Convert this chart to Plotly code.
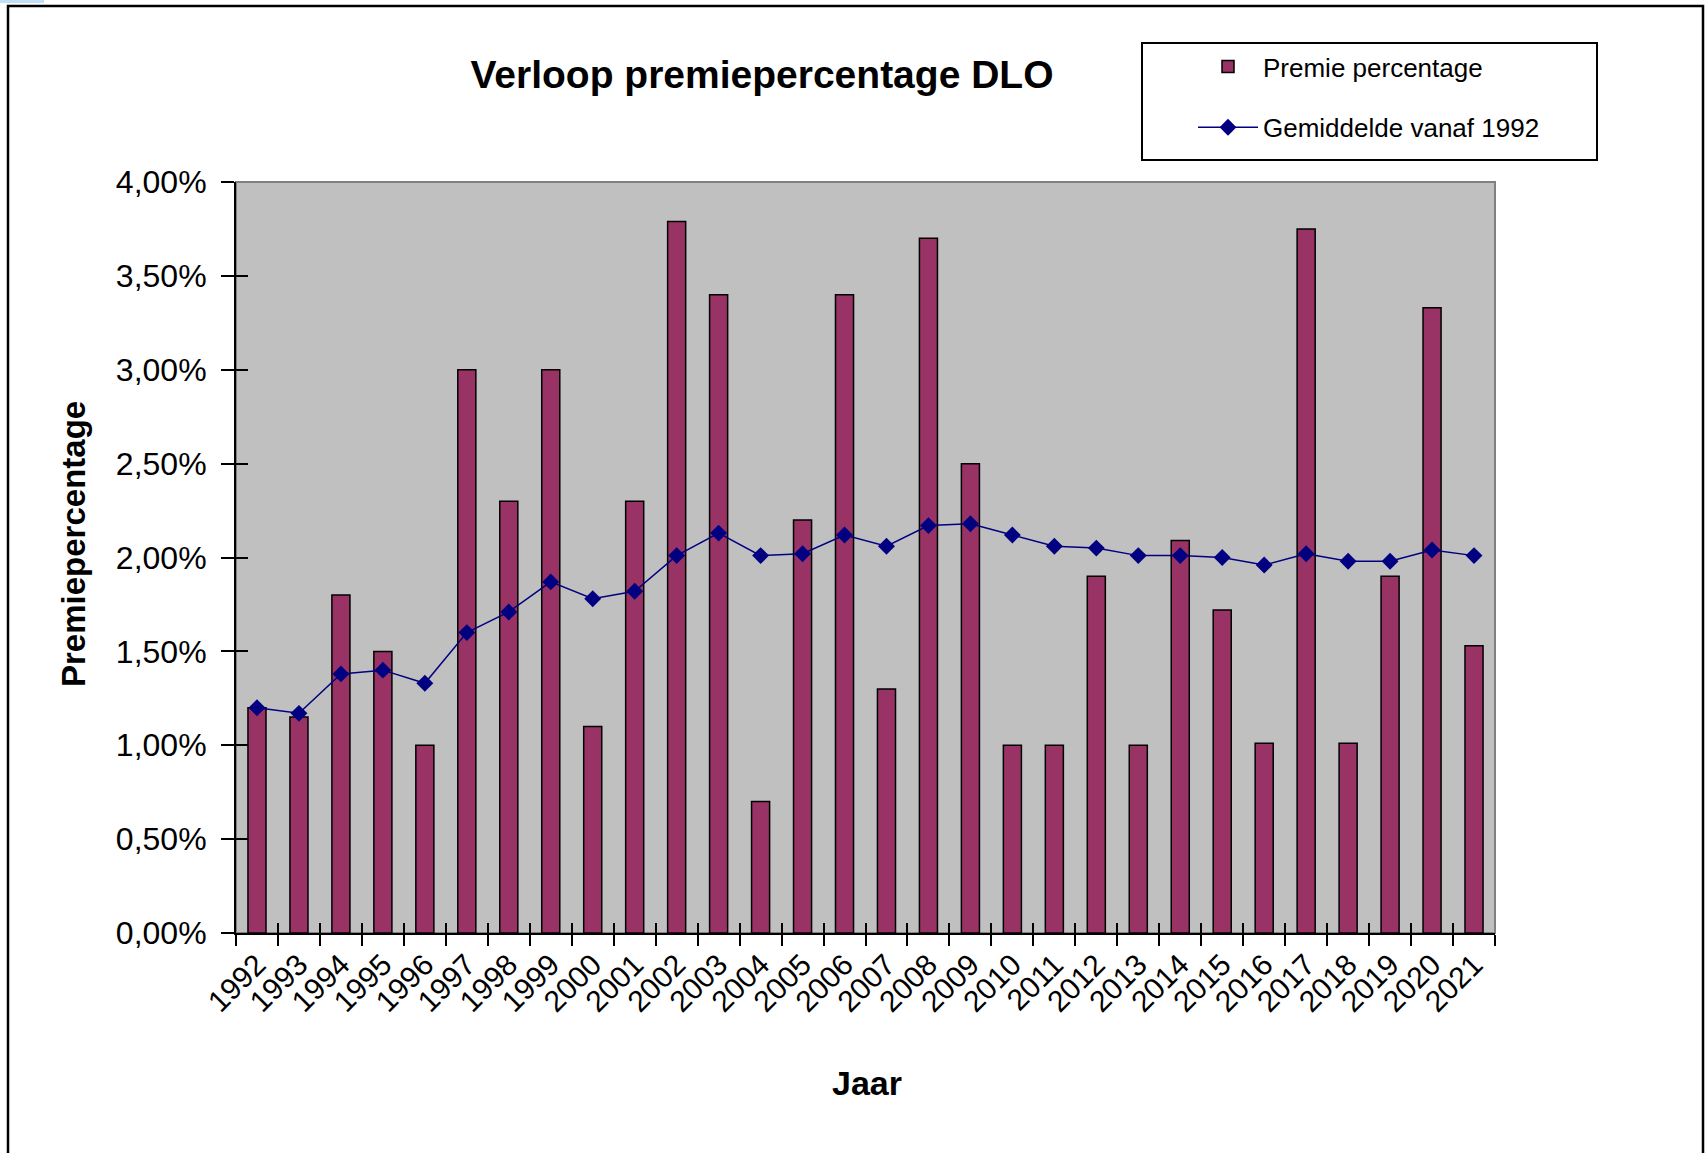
import plotly.graph_objects as go

years = [str(y) for y in range(1992, 2022)]
premie = [1.20, 1.15, 1.80, 1.50, 1.00, 3.00, 2.30, 3.00, 1.10, 2.30,
          3.79, 3.40, 0.70, 2.20, 3.40, 1.30, 3.70, 2.50, 1.00, 1.00,
          1.90, 1.00, 2.09, 1.72, 1.01, 3.75, 1.01, 1.90, 3.33, 1.53]
gemiddelde = [1.20, 1.17, 1.38, 1.40, 1.33, 1.60, 1.71, 1.87, 1.78, 1.82,
              2.01, 2.13, 2.01, 2.02, 2.12, 2.06, 2.17, 2.18, 2.12, 2.06,
              2.05, 2.01, 2.01, 2.00, 1.96, 2.02, 1.98, 1.98, 2.04, 2.01]
y_ticks = [0, 0.005, 0.01, 0.015, 0.02, 0.025, 0.03, 0.035, 0.04]

premie_f = [v / 100 for v in premie]
gem_f = [v / 100 for v in gemiddelde]

W, H = 1706, 1153
L, R, T, B = 236, 1495, 182, 933  # plot area in pixels


def px(x):
    return (x - L) / (R - L)


def py(y):
    return (B - y) / (B - T)


FONT = "Liberation Sans, Arial, sans-serif"
cat_range = [-0.5, len(years) - 0.5]

fig = go.Figure()
fig.add_trace(go.Bar(
    x=years, y=premie_f, name="Premie percentage",
    marker=dict(color="#993366", line=dict(color="black", width=1.5)),
    legendgroup="a",
))
fig.add_trace(go.Scatter(
    x=years, y=gem_f, name="Gemiddelde vanaf 1992",
    mode="lines+markers", xaxis="x2", yaxis="y2",
    line=dict(color="#000080", width=1.5),
    marker=dict(symbol="diamond", size=13, color="#000080"),
    legendgroup="b",
))

fig.update_layout(
    width=W, height=H,
    margin=dict(l=L, r=W - R, t=T, b=H - B, pad=0),
    paper_bgcolor="white", plot_bgcolor="#C0C0C0",
    separators=",.",
    bargap=0.57,
    font=dict(family=FONT, color="black"),
    title=dict(text="Verloop premiepercentage DLO", x=px(762), xref="paper",
               xanchor="center", y=1 - 74 / H, yanchor="middle",
               font=dict(size=39, weight="bold", family=FONT, color="black")),
    showlegend=True,
    legend=dict(x=px(1193), y=py(43), xanchor="left", yanchor="top",
                bgcolor="rgba(0,0,0,0)", borderwidth=0,
                font=dict(size=26, family=FONT, color="black"),
                traceorder="grouped", tracegroupgap=24, itemwidth=60),
    xaxis=dict(type="category", range=cat_range, tickson="boundaries",
               ticks="outside", ticklen=11, tickwidth=2, tickcolor="black",
               showline=True, linecolor="black", linewidth=2,
               showgrid=False, tickangle=-45,
               tickfont=dict(size=30, family=FONT, color="black")),
    yaxis=dict(range=[0, 0.04], tickvals=y_ticks, tickformat=".2%",
               ticks="outside", ticklen=13, tickwidth=2, tickcolor="black",
               showline=True, linecolor="black", linewidth=2,
               showgrid=False, zeroline=False, ticklabelstandoff=8,
               tickfont=dict(size=32, family=FONT, color="black")),
    xaxis2=dict(type="category", overlaying="x", matches="x", anchor="y2",
                range=cat_range, side="bottom", tickson="boundaries",
                ticks="inside", ticklen=10, tickwidth=2, tickcolor="black",
                showticklabels=False, showline=False, showgrid=False),
    yaxis2=dict(overlaying="y", matches="y", anchor="x2", side="left",
                range=[0, 0.04], tickvals=y_ticks, ticks="inside",
                ticklen=12, tickwidth=2, tickcolor="black",
                showticklabels=False, showline=False,
                showgrid=False, zeroline=False),
    annotations=[
        dict(text="Premiepercentage", textangle=-90, x=px(73), y=py(544),
             xref="paper", yref="paper", xanchor="center", yanchor="middle",
             showarrow=False,
             font=dict(size=33, weight="bold", family=FONT, color="black")),
        dict(text="Jaar", x=px(867), y=py(1083), xref="paper", yref="paper",
             xanchor="center", yanchor="middle", showarrow=False,
             font=dict(size=34, weight="bold", family=FONT, color="black")),
    ],
    shapes=[
        # plot area frame (grey top/right edge)
        dict(type="rect", xref="paper", yref="paper", x0=0, x1=1, y0=0, y1=1,
             line=dict(color="#808080", width=2), layer="below"),
        # outer chart frame
        dict(type="rect", xref="paper", yref="paper", x0=px(8), x1=px(1703),
             y0=py(1170), y1=py(6), line=dict(color="black", width=2.5),
             layer="below"),
        # legend frame
        dict(type="rect", xref="paper", yref="paper", x0=px(1142), x1=px(1597),
             y0=py(160), y1=py(43), line=dict(color="black", width=2),
             layer="above"),
        # light blue strip in top-left corner
        dict(type="rect", xref="paper", yref="paper", x0=px(0), x1=px(44),
             y0=py(3), y1=py(0), line=dict(width=0), fillcolor="#BFE0F5",
             layer="below"),
    ],
)

fig.write_html("out.html", config={"displayModeBar": False},
               post_script="document.body.style.margin='0px';")
